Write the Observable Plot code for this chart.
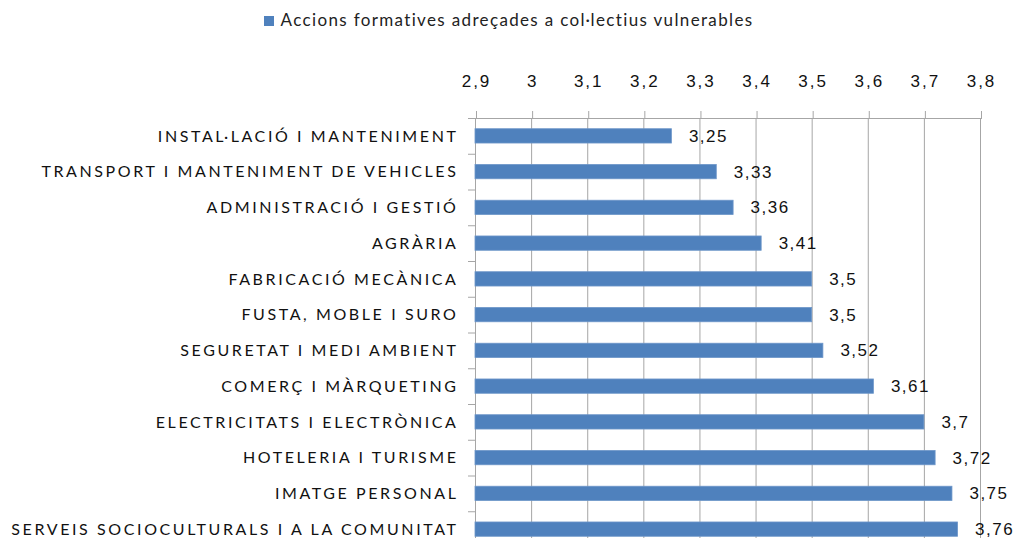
<!DOCTYPE html>
<html>
<head>
<meta charset="utf-8">
<script src="https://cdn.jsdelivr.net/npm/d3@7"></script>
<script src="https://cdn.jsdelivr.net/npm/@observablehq/plot@0.6"></script>
<style>
  html, body { margin: 0; padding: 0; background: #fff; overflow: hidden; }
  #legend { height: 40px; display: flex; align-items: center; justify-content: center; font-family: Lato, "Noto Sans", sans-serif; font-size: 17px; letter-spacing: 1.35px; color: #222; }
  #legend .sw { width: 10px; height: 10px; background: #4f81bd; margin-right: 7px; margin-top: 1px; }
  #legend span { position: relative; top: -1px; }
  #chart svg { display: block; }
  #chart g[aria-label="y-axis tick label"] text { letter-spacing: 2.6px; }
  #chart g[aria-label="x-axis tick label"] text { letter-spacing: 2px; }
  #chart g[aria-label="text"] text { letter-spacing: 1.5px; }
</style>
</head>
<body>
<div id="legend"><div class="sw"></div><span>Accions formatives adreçades a col·lectius vulnerables</span></div>
<div id="chart"></div>
<script>
const seriesName = "Accions formatives adreçades a col·lectius vulnerables";
const categories = [
  "INSTAL·LACIÓ I MANTENIMENT",
  "TRANSPORT I MANTENIMENT DE VEHICLES",
  "ADMINISTRACIÓ I GESTIÓ",
  "AGRÀRIA",
  "FABRICACIÓ MECÀNICA",
  "FUSTA, MOBLE I SURO",
  "SEGURETAT I MEDI AMBIENT",
  "COMERÇ I MÀRQUETING",
  "ELECTRICITATS I ELECTRÒNICA",
  "HOTELERIA I TURISME",
  "IMATGE PERSONAL",
  "SERVEIS SOCIOCULTURALS I A LA COMUNITAT"
];
const values = [3.25, 3.33, 3.36, 3.41, 3.5, 3.5, 3.52, 3.61, 3.7, 3.72, 3.75, 3.76];
const xTicks = [2.9, 3.0, 3.1, 3.2, 3.3, 3.4, 3.5, 3.6, 3.7, 3.8];
const xMin = 2.9, xMax = 3.8;

const data = categories.map((c, i) => ({cat: c, value: values[i]}));
const fmt = v => String(+v.toFixed(2)).replace(".", ",");

const height = 507, marginTop = 78, marginBottom = 0;
const step = (height - marginTop - marginBottom) / categories.length;
const tickLeft = xMin - 7 * (xMax - xMin) / 505;
const grid = "#a6a6a6";
const numFont = "'Liberation Sans', Arial, sans-serif";

const chart = Plot.plot({
  width: 1017,
  height,
  marginTop,
  marginBottom,
  marginLeft: 475,
  marginRight: 37,
  style: {background: "#fff", overflow: "visible"},
  x: {domain: [xMin, xMax], axis: null, label: null},
  y: {domain: categories, paddingInner: 0.6, paddingOuter: 0.3, round: false, axis: null, label: null},
  marks: [
    Plot.ruleX(xTicks, {x: d => d, stroke: grid, strokeWidth: 1}),
    // top axis line
    Plot.ruleY([categories[0]], {y: d => d, x1: tickLeft, x2: xMax, dy: -step / 2, stroke: grid}),
    // category boundary ticks
    Plot.ruleY(categories.slice(1), {y: d => d, x1: tickLeft, x2: xMin, dy: -step / 2, stroke: grid}),
    Plot.barX(data, {y: "cat", x1: () => xMin, x2: "value", fill: "#4f81bd", stroke: "#6d96c9", strokeWidth: 0.8}),
    Plot.text(data, {y: "cat", x: "value", text: d => fmt(d.value), textAnchor: "start", dx: 17, fontSize: 17, fill: "#111", fontFamily: numFont}),
    Plot.axisX(xTicks, {anchor: "top", label: null, tickSize: 8, tickPadding: 24, stroke: grid, fontSize: 17, fill: "#111", fontFamily: numFont, tickFormat: fmt, dx: 1}),
    Plot.axisY({anchor: "left", label: null, tickSize: 0, tickPadding: 17, fontSize: 16, fill: "#111", fontFamily: "Lato, 'Noto Sans', sans-serif"})
  ]
});
document.getElementById("chart").appendChild(chart);
</script>
</body>
</html>
